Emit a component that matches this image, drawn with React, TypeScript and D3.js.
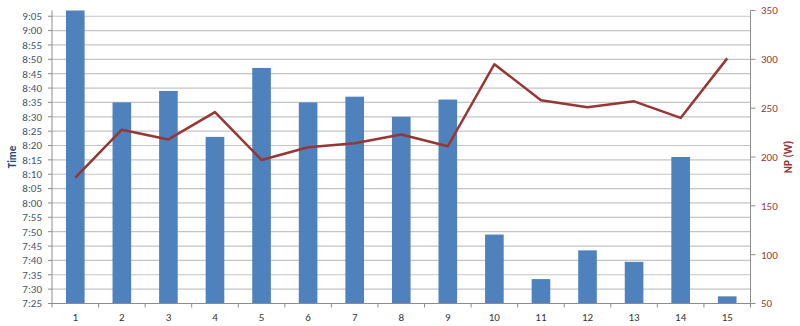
import React from "react";
import * as d3 from "d3";

const categories = ["1","2","3","4","5","6","7","8","9","10","11","12","13","14","15"];
const timeValues = ["9:10","8:35","8:39","8:23","8:47","8:35","8:37","8:30","8:36","7:49","7:33.5","7:43.5","7:39.5","8:16","7:27.5"];
const npValues = [179, 228, 218, 246, 197, 210, 214, 223, 211, 295, 258, 251, 257, 240, 301];
const timeTicks = ["7:25","7:30","7:35","7:40","7:45","7:50","7:55","8:00","8:05","8:10","8:15","8:20","8:25","8:30","8:35","8:40","8:45","8:50","8:55","9:00","9:05"];
const npTicks = [50, 100, 150, 200, 250, 300, 350];

const toMin = (s: string) => {
  const [h, m] = s.split(":");
  return +h * 60 + parseFloat(m);
};

export default function App() {
  const W = 800, H = 326;
  const left = 52, right = 750.5, top = 10.5, bottom = 303.5;
  const x = d3.scaleBand<string>().domain(categories).range([left, right]).paddingInner(0.6).paddingOuter(0.3);
  const xc = d3.scaleBand<string>().domain(categories).range([left, right]);
  const yL = d3.scaleLinear().domain([toMin("7:25"), toMin("9:07")]).range([bottom, top]);
  const yR = d3.scaleLinear().domain([50, 350]).range([bottom, top]);
  const line = d3.line<number>().x((_, i) => xc(categories[i])! + xc.bandwidth() / 2).y(d => yR(d));
  const bw = xc.bandwidth() / 2.5;
  const font = "Carlito, Calibri, 'Open Sans', sans-serif";
  return (
    <svg width={W} height={H} style={{ position: "absolute", left: 0, top: 0, background: "#fff" }} fontFamily={font}>
      {timeTicks.map(t => (
        <g key={t}>
          <line x1={left} x2={right} y1={yL(toMin(t))} y2={yL(toMin(t))} stroke="#c4c4c4" strokeWidth={1.2} />
          <line x1={left - 4} x2={left} y1={yL(toMin(t))} y2={yL(toMin(t))} stroke="#8c8c8c" />
          <text x={42} y={yL(toMin(t))} dy="0.35em" textAnchor="end" fontSize={11} fill="#44546a">{t}</text>
        </g>
      ))}
      {categories.map((c, i) => (
        <rect key={c} x={xc(c)! + (xc.bandwidth() - bw) / 2} width={bw}
          y={Math.max(top, yL(toMin(timeValues[i])))}
          height={bottom - Math.max(top, yL(toMin(timeValues[i])))} fill="#4f81bd" />
      ))}
      <line x1={left} x2={left} y1={top} y2={bottom} stroke="#8c8c8c" />
      <line x1={right} x2={right} y1={top} y2={bottom} stroke="#8c8c8c" />
      <line x1={left} x2={right} y1={bottom} y2={bottom} stroke="#8c8c8c" />
      {categories.concat([""]).map((c, i) => (
        <line key={"t" + i} x1={left + i * xc.bandwidth()} x2={left + i * xc.bandwidth()} y1={bottom} y2={bottom + 4} stroke="#8c8c8c" />
      ))}
      {categories.map(c => (
        <text key={"l" + c} x={xc(c)! + xc.bandwidth() / 2} y={317} dy="0.35em" textAnchor="middle" fontSize={11} fill="#333">{c}</text>
      ))}
      {npTicks.map(t => (
        <g key={"r" + t}>
          <line x1={right} x2={right + 5} y1={yR(t)} y2={yR(t)} stroke="#8c8c8c" />
          <text x={761} y={yR(t)} dy="0.35em" fontSize={11} fill="#953735">{t}</text>
        </g>
      ))}
      <path d={line(npValues)!} fill="none" stroke="#953735" strokeWidth={2.5} strokeLinejoin="round" />
      <text transform={`translate(16,157) rotate(-90)`} textAnchor="middle" fontSize={11} fontWeight="bold" fill="#1f497d">Time</text>
      <text transform={`translate(792,157) rotate(-90)`} textAnchor="middle" fontSize={11} fontWeight="bold" fill="#953735">NP (W)</text>
    </svg>
  );
}
